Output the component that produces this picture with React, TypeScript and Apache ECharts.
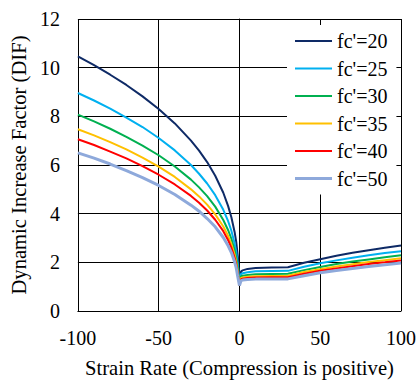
import { useEffect, useRef } from 'react';
import * as echarts from 'echarts';

const xValues = [-100, -90, -80, -70, -60, -50, -40, -30, -25, -20, -15, -10, -7, -5, -3, -2, -1, 0, 1, 2, 5, 10, 20, 30, 40, 50, 60, 70, 80, 90, 100];

const fc20 = [10.46, 10.10, 9.71, 9.29, 8.82, 8.30, 7.71, 7.00, 6.59, 6.12, 5.56, 4.86, 4.31, 3.85, 3.25, 2.84, 2.25, 1.05, 1.63, 1.67, 1.73, 1.77, 1.79, 1.80, 1.98, 2.13, 2.27, 2.39, 2.50, 2.60, 2.69];
const fc25 = [8.96, 8.65, 8.32, 7.95, 7.56, 7.11, 6.60, 6.00, 5.64, 5.24, 4.76, 4.16, 3.69, 3.30, 2.78, 2.43, 1.93, 1.05, 1.52, 1.55, 1.59, 1.63, 1.64, 1.65, 1.82, 1.96, 2.08, 2.19, 2.29, 2.38, 2.46];
const fc30 = [8.07, 7.79, 7.49, 7.16, 6.80, 6.40, 5.94, 5.40, 5.08, 4.72, 4.29, 3.74, 3.32, 2.97, 2.51, 2.19, 1.74, 1.05, 1.42, 1.45, 1.48, 1.51, 1.52, 1.53, 1.68, 1.81, 1.93, 2.03, 2.12, 2.21, 2.29];
const fc35 = [7.47, 7.22, 6.94, 6.64, 6.30, 5.93, 5.51, 5.00, 4.71, 4.37, 3.97, 3.47, 3.08, 2.75, 2.32, 2.03, 1.61, 1.05, 1.36, 1.38, 1.41, 1.43, 1.44, 1.45, 1.60, 1.72, 1.83, 1.92, 2.01, 2.09, 2.17];
const fc40 = [7.06, 6.82, 6.55, 6.27, 5.95, 5.60, 5.20, 4.73, 4.45, 4.13, 3.75, 3.28, 2.91, 2.60, 2.19, 1.92, 1.52, 1.05, 1.31, 1.33, 1.36, 1.38, 1.385, 1.39, 1.53, 1.65, 1.75, 1.84, 1.93, 2.00, 2.08];
const fc50 = [6.50, 6.28, 6.04, 5.77, 5.48, 5.16, 4.79, 4.35, 4.10, 3.80, 3.46, 3.02, 2.68, 2.40, 2.02, 1.77, 1.40, 1.05, 1.25, 1.27, 1.29, 1.31, 1.32, 1.32, 1.45, 1.57, 1.66, 1.75, 1.83, 1.90, 1.97];

const seriesNames = ["fc'=20", "fc'=25", "fc'=30", "fc'=35", "fc'=40", "fc'=50"];
const seriesColors = ['#0E2A66', '#00B0F0', '#00B050', '#FFC000', '#FF0000', '#8EA9DB'];
const seriesWidths = [2, 2, 2, 2, 2, 3];
const seriesValues = [fc20, fc25, fc30, fc35, fc40, fc50];

const FONT = 'Liberation Serif';

export default function App() {
  const ref = useRef<HTMLDivElement>(null);
  useEffect(() => {
    const chart = echarts.init(ref.current!, null, { renderer: 'svg' });
    chart.setOption({
      animation: false,
      backgroundColor: '#fff',
      textStyle: { fontFamily: FONT },
      grid: { left: 72, right: 15, top: 19, bottom: 69 },
      legend: {
        orient: 'vertical',
        left: 287,
        top: 25,
        padding: [6, 9, 6, 8],
        backgroundColor: '#fff',
        itemWidth: 37,
        itemHeight: 14,
        itemGap: 7.5,
        symbolKeepAspect: true,
        textStyle: { fontFamily: FONT, fontSize: 20, color: '#000' },
        data: seriesNames.map((name, k) => ({
          name,
          icon: seriesWidths[k] === 3 ? 'path://M0 0H37V3H0Z' : 'path://M0 0H37V2H0Z',
          itemStyle: { color: seriesColors[k] },
        })),
      },
      xAxis: {
        type: 'value',
        min: -100,
        max: 100,
        interval: 50,
        name: 'Strain Rate (Compression is positive)',
        nameLocation: 'middle',
        nameGap: 46,
        nameTextStyle: { fontFamily: FONT, fontSize: 20.6, color: '#000' },
        axisLine: { show: true, onZero: false, lineStyle: { color: '#000', width: 1 } },
        axisTick: { show: false },
        axisLabel: { fontFamily: FONT, fontSize: 20, color: '#000', margin: 17 },
        splitLine: { show: true, lineStyle: { color: '#000', width: 1 } },
      },
      yAxis: {
        type: 'value',
        min: 0,
        max: 12,
        interval: 2,
        name: 'Dynamic Increase Factor (DIF)',
        nameLocation: 'middle',
        nameGap: 46,
        nameTextStyle: { fontFamily: FONT, fontSize: 20.6, color: '#000' },
        axisLine: { show: true, lineStyle: { color: '#000', width: 1 } },
        axisTick: { show: false },
        axisLabel: { fontFamily: FONT, fontSize: 20, color: '#000', margin: 18 },
        splitLine: { show: true, lineStyle: { color: '#000', width: 1 } },
      },
      series: seriesNames.map((name, k) => ({
        name,
        type: 'line',
        symbol: 'none',
        data: xValues.map((x, i) => [x, seriesValues[k][i]]),
        lineStyle: { color: seriesColors[k], width: seriesWidths[k] },
        itemStyle: { color: seriesColors[k] },
      })),
    });
    return () => chart.dispose();
  }, []);
  return (
    <div
      ref={ref}
      style={{ position: 'fixed', left: 0, top: 0, width: 419, height: 383, background: '#fff' }}
    />
  );
}
